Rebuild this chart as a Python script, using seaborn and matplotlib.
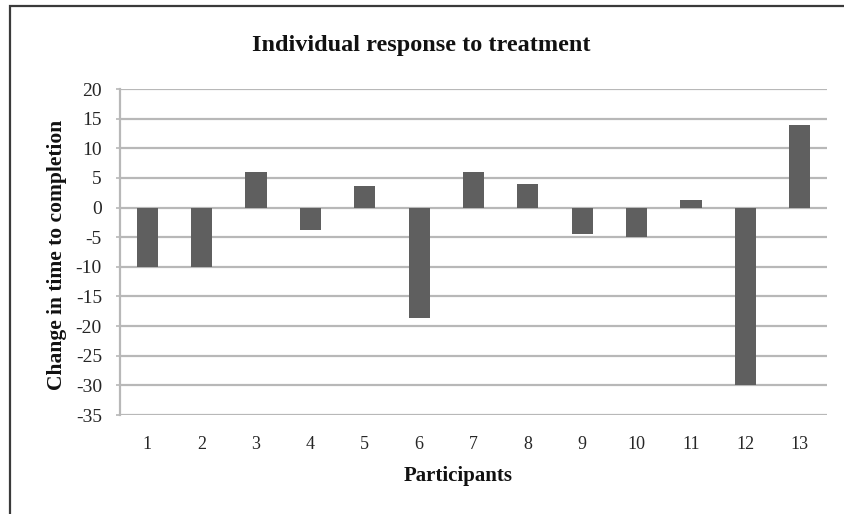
import matplotlib
matplotlib.use("Agg")
import matplotlib.pyplot as plt
import seaborn as sns
import pandas as pd
from matplotlib.patches import Rectangle

participants = [str(i) for i in range(1, 14)]
change = [-10, -10, 6, -3.8, 3.6, -18.6, 6, 4, -4.4, -5, 1.3, -30, 14]
yticks = [20, 15, 10, 5, 0, -5, -10, -15, -20, -25, -30, -35]

title = "Individual response to treatment"
xlabel = "Participants"
ylabel = "Change in time to completion"

sns.set_theme(style="white")
plt.rcParams['font.family'] = ['Liberation Serif', 'DejaVu Serif']

df = pd.DataFrame({"participant": participants, "change": change})

fig = plt.figure(figsize=(8.44, 5.14), dpi=100)
W, H = 844, 514
ax = fig.add_axes([120 / W, 1 - 415 / H, (827 - 120) / W, (415 - 89) / H])

# outer chart frame (cropped at right/bottom in the reference)
fig.patches.append(Rectangle((10 / W, -0.05), 1.2, 1 - 6 / H + 0.05,
                             transform=fig.transFigure, fill=False,
                             edgecolor="#3a3a3a", linewidth=1.6, zorder=0))

sns.barplot(data=df, x="participant", y="change", color="#5f5f5f",
            saturation=1, width=0.39, linewidth=0, ax=ax, zorder=3)

ax.set_ylim(-35, 20)
ax.set_yticks(yticks)
ax.set_yticklabels([str(t) for t in yticks])
ax.set_xlim(-0.5, len(participants) - 0.5)

ax.yaxis.grid(True, color="#b8b8b8", linewidth=1.6, zorder=0)
ax.set_axisbelow(True)
for s in ["top", "right"]:
    ax.spines[s].set_visible(False)
ax.spines["bottom"].set_visible(False)
ax.spines["left"].set_color("#b8b8b8")
ax.spines["left"].set_linewidth(1.6)

ax.tick_params(axis="y", which="both", left=True, length=3, width=1.2,
               color="#b8b8b8", labelsize=14, pad=10, labelcolor="#262626")
ax.tick_params(axis="x", which="both", bottom=False, labelsize=13, pad=9,
               labelcolor="#262626")

ax.set_xlabel(xlabel, fontsize=15, fontweight="bold", color="#111111")
ax.set_ylabel(ylabel, fontsize=15.5, fontweight="bold", color="#111111")
ax.xaxis.label.set_va("center")
ax.yaxis.label.set_va("center")
ax.xaxis.set_label_coords((458 - 120) / 707, (415 - 476) / 326)
ax.yaxis.set_label_coords((57 - 120) / 707, (415 - 255) / 326)
fig.text(421 / W, 1 - 45 / H, title, ha="center", va="center",
         fontsize=17.5, fontweight="bold", color="#111111")

fig.savefig("out.png", dpi=100)
